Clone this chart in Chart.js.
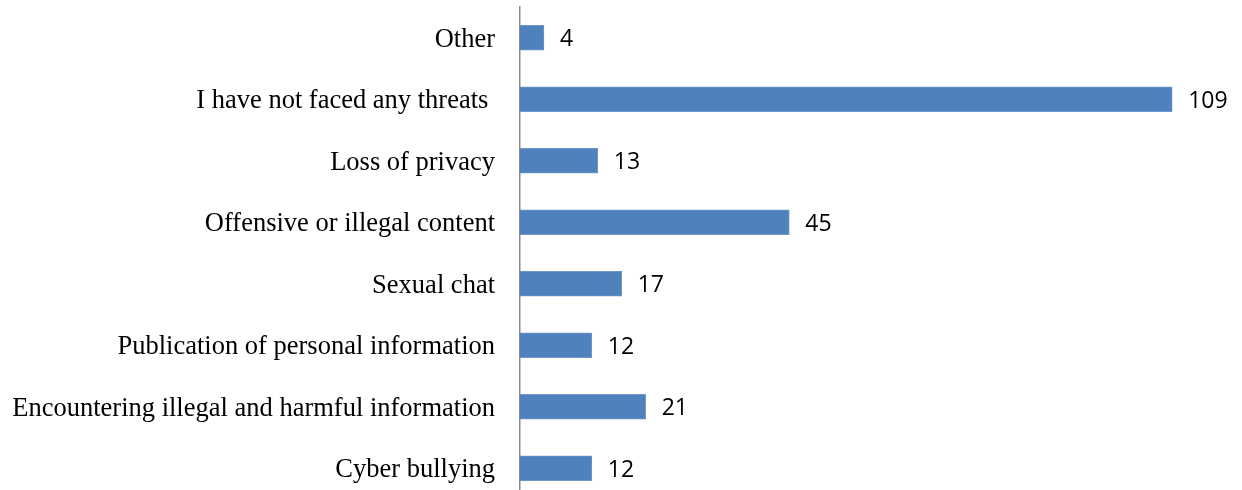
<!DOCTYPE html>
<html>
<head>
<meta charset="utf-8">
<script src="https://cdn.jsdelivr.net/npm/chart.js@4"></script>
<style>
  html, body { margin: 0; padding: 0; background: #fff; overflow: hidden; }
  canvas { display: block; }
</style>
</head>
<body>
<canvas id="c" width="1242" height="499" style="width:1242px;height:499px"></canvas>
<script>
const categories = [
  "Other",
  "I have not faced any threats ",
  "Loss of privacy",
  "Offensive or illegal content",
  "Sexual chat",
  "Publication of personal information",
  "Encountering illegal and harmful information",
  "Cyber bullying"
];
const values = [4, 109, 13, 45, 17, 12, 21, 12];

const valueLabels = {
  id: 'valueLabels',
  afterDatasetsDraw(chart) {
    const ctx = chart.ctx;
    const meta = chart.getDatasetMeta(0);
    ctx.save();
    ctx.font = '23px "Open Sans", "Liberation Sans", sans-serif';
    ctx.fillStyle = '#000';
    ctx.textAlign = 'left';
    ctx.textBaseline = 'middle';
    meta.data.forEach((bar, i) => {
      ctx.fillText(String(values[i]), bar.x + 16, bar.y + 2);
    });
    ctx.restore();
  }
};

new Chart(document.getElementById('c'), {
  type: 'bar',
  data: {
    labels: categories,
    datasets: [{
      data: values,
      backgroundColor: '#4F81BD',
      borderColor: '#6F97C9',
      borderWidth: 1,
      barThickness: 25
    }]
  },
  options: {
    indexAxis: 'y',
    responsive: false,
    devicePixelRatio: 1,
    animation: false,
    events: [],
    layout: { padding: { top: 7, right: 4, bottom: 0, left: 0 } },
    plugins: { legend: { display: false }, tooltip: { enabled: false } },
    scales: {
      x: {
        display: false,
        min: 0,
        max: 120
      },
      y: {
        afterFit(scale) {
          scale.width = 520;
          scale.paddingTop = 0;
          scale.paddingBottom = 0;
        },
        grid: { display: false, drawTicks: false },
        border: { display: true, color: '#8A8A8A', width: 1.5 },
        ticks: {
          padding: 25,
          labelOffset: 2,
          color: '#000',
          font: { family: '"Liberation Serif", "Times New Roman", serif', size: 26.5 }
        }
      }
    }
  },
  plugins: [valueLabels]
});
</script>
</body>
</html>
